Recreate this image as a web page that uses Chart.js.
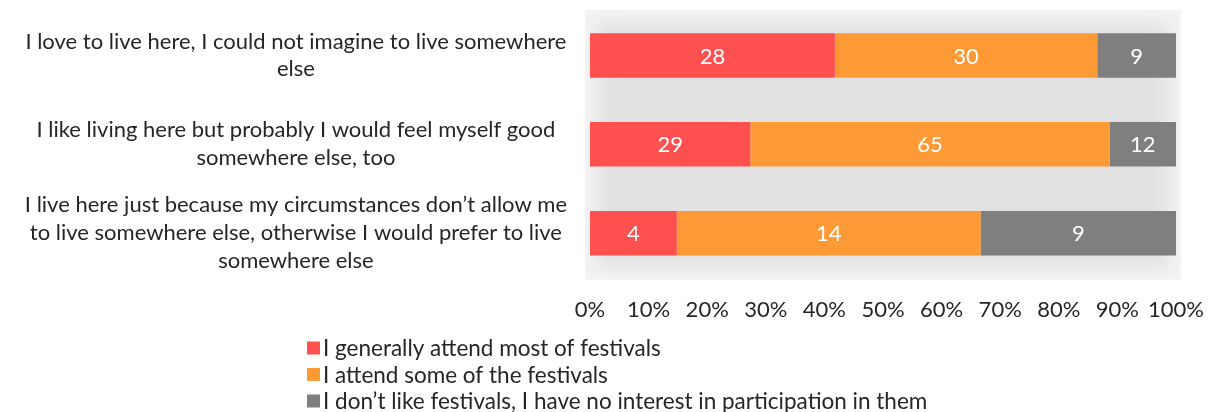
<!DOCTYPE html>
<html>
<head>
<meta charset="utf-8">
<title>Festival attendance by attitude to place</title>
<script src="https://cdn.jsdelivr.net/npm/chart.js@4.4.1/dist/chart.umd.min.js"></script>
<style>
  html, body { margin: 0; padding: 0; background: #fff; }
  #wrap { position: relative; width: 1211px; height: 412px; }
</style>
</head>
<body>
<div id="wrap"><canvas id="festChart"></canvas></div>
<script>
const categories = [
  ["I love to live here, I could not imagine to live somewhere", "else"],
  ["I like living here but probably I would feel myself good", "somewhere else, too"],
  ["I live here just because my circumstances don\u2019t allow me", "to live somewhere else, otherwise I would prefer to live", "somewhere else"]
];
const seriesNames = [
  "I generally attend most of festivals",
  "I attend some of the festivals",
  "I don\u2019t like festivals, I have no interest in participation in them"
];
const mostFestivals = [28, 29, 4];
const someFestivals = [30, 65, 14];
const noInterest = [9, 12, 9];
const xTickLabels = ["0%", "10%", "20%", "30%", "40%", "50%", "60%", "70%", "80%", "90%", "100%"];
const seriesColors = ["#FF5050", "#FE9A36", "#7F7F7F"];

const FONT = "Lato, 'Open Sans', sans-serif";

// 100% stacked: turn counts into each row's share
const counts = [mostFestivals, someFestivals, noInterest];
const rowTotals = categories.map((_, i) => counts.reduce((s, arr) => s + arr[i], 0));
const toShare = arr => arr.map((v, i) => v / rowTotals[i] * 100);

// soft grey panel behind the bars
const panelBg = {
  id: "panelBg",
  beforeDraw(chart) {
    const { ctx, chartArea: a } = chart;
    const x = a.left - 5, y = a.top - 1, w = a.right - a.left + 10, h = a.bottom - a.top + 3;
    ctx.save();
    ctx.fillStyle = "#f4f4f4";
    ctx.fillRect(x, y, w, h);
    ctx.beginPath();
    ctx.rect(x, y, w, h);
    ctx.clip();
    ctx.filter = "blur(9px)";
    ctx.fillStyle = "#e1e1e1";
    ctx.fillRect(x + 12, y + 12, w - 24, h - 24);
    ctx.restore();
  }
};

// white count labels in the middle of each segment
const segmentLabels = {
  id: "segmentLabels",
  afterDatasetsDraw(chart) {
    const { ctx } = chart;
    ctx.save();
    ctx.font = "22px " + FONT;
    ctx.fillStyle = "#ffffff";
    ctx.textAlign = "center";
    ctx.textBaseline = "middle";
    chart.data.datasets.forEach((ds, di) => {
      chart.getDatasetMeta(di).data.forEach((bar, i) => {
        const p = bar.getCenterPoint();
        ctx.fillText(String(ds.counts[i]), p.x, p.y + 1);
      });
    });
    ctx.restore();
  }
};

// legend stacked one entry per line under the axis
const stackedLegend = {
  id: "stackedLegend",
  afterDraw(chart) {
    const { ctx } = chart;
    const left = 307, top = 348, step = 26.5, box = 13;
    ctx.save();
    ctx.font = "22.5px " + FONT;
    ctx.textBaseline = "middle";
    ctx.textAlign = "left";
    chart.data.datasets.forEach((ds, i) => {
      const cy = top + i * step;
      ctx.fillStyle = ds.backgroundColor;
      ctx.fillRect(left, cy - box / 2, box, box);
      ctx.fillStyle = "#262626";
      ctx.fillText(ds.label, left + box + 3, cy + 1);
    });
    ctx.restore();
  }
};

new Chart(document.getElementById("festChart"), {
  type: "bar",
  data: {
    labels: categories,
    datasets: counts.map((arr, i) => ({
      label: seriesNames[i],
      data: toShare(arr),
      counts: arr,
      backgroundColor: seriesColors[i],
      borderWidth: 0,
      categoryPercentage: 1,
      barPercentage: 0.5
    }))
  },
  options: {
    indexAxis: "y",
    responsive: true,
    maintainAspectRatio: false,
    animation: false,
    layout: { padding: { left: 0, top: 11, right: 35, bottom: 70 } },
    plugins: {
      legend: { display: false },
      tooltip: { enabled: false }
    },
    scales: {
      x: {
        stacked: true,
        min: 0,
        max: 100,
        grid: { display: false, drawTicks: false },
        border: { display: false },
        afterFit(scale) { scale.paddingLeft = 0; scale.paddingRight = 0; },
        ticks: {
          stepSize: 10,
          padding: 19,
          color: "#262626",
          font: { family: FONT, size: 22 },
          maxRotation: 0,
          autoSkip: false,
          callback: (v, idx) => xTickLabels[idx]
        }
      },
      y: {
        stacked: true,
        grid: { display: false, drawTicks: false },
        border: { display: false },
        afterFit(scale) {
          scale.width = 590;
          scale.paddingTop = 0;
          scale.paddingBottom = 0;
        },
        ticks: {
          crossAlign: "center",
          autoSkip: false,
          padding: 23,
          color: "#262626",
          font: { family: FONT, size: 22, lineHeight: 1.27 }
        }
      }
    }
  },
  plugins: [panelBg, segmentLabels, stackedLegend]
});
</script>
</body>
</html>
